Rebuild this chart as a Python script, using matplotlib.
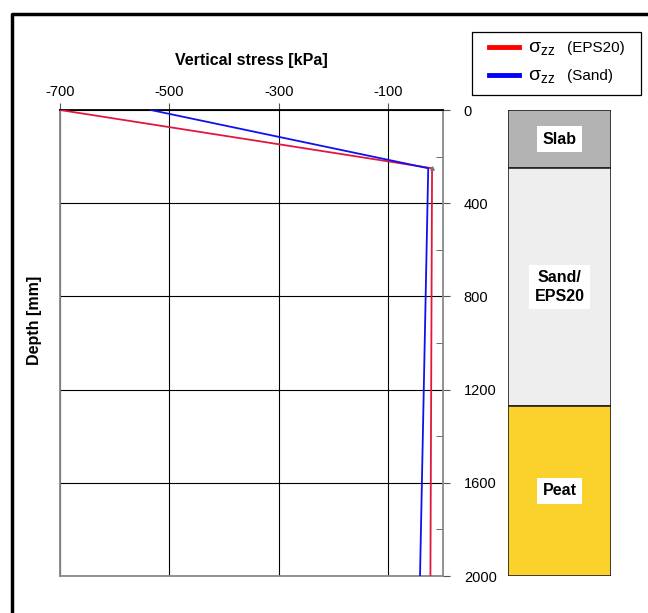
import numpy as np
import matplotlib
matplotlib.use("Agg")
import matplotlib.pyplot as plt
from matplotlib.lines import Line2D
from matplotlib.patches import Rectangle

# data
depth = [0, 250, 2000]
stress_eps = [-700, -20, -23]
stress_sand = [-534, -27, -42]

layer_names = ["Slab", "Sand/\nEPS20", "Peat"]
layer_top = [0, 250, 1270]
layer_bot = [250, 1270, 2000]
layer_colors = ["#B3B3B3", "#EEEEEE", "#FBD22B"]

series_names = ["(EPS20)", "(Sand)"]
legend_colors = ["#FF0000", "#0000FF"]

xticks = [-700, -500, -300, -100]
yticks = [0, 400, 800, 1200, 1600, 2000]

W, H = 648, 613
plt.rcParams['font.family'] = ['Liberation Sans', 'DejaVu Sans']
plt.rcParams['font.size'] = 10.5
plt.rcParams['axes.unicode_minus'] = False
plt.rcParams['mathtext.fontset'] = 'custom'
plt.rcParams['mathtext.rm'] = 'Liberation Sans'
fig = plt.figure(figsize=(W/100, H/100), dpi=100)

def box(x0, y0, x1, y1):
    return [x0/W, 1-y1/H, (x1-x0)/W, (y1-y0)/H]

# stress plot
ax = fig.add_axes(box(60, 110, 443, 576))
ax.plot(stress_eps, depth, "-", color="#E3173E", lw=1.3, zorder=3)
ax.plot(stress_sand, depth, "-", color="#1010F0", lw=1.3, zorder=3)
ax.plot([stress_eps[1]], [depth[1]], marker="^", ms=2.5, color="#777777", zorder=4)
ax.set_xlim(-700, 0)
ax.set_ylim(2000, 0)
ax.xaxis.tick_top()
ax.yaxis.tick_right()
ax.set_xticks(xticks)
ax.set_yticks(yticks)
ax.set_yticks(np.arange(200, 2000, 400), minor=True)
ax.tick_params(axis='x', direction='out', length=5, color='#555555', pad=3, labelsize=10.5)
ax.tick_params(axis='y', which='major', direction='out', length=5, color='#555555', pad=10,
               labelsize=10.5)
ax.tick_params(axis='y', which='minor', direction='in', length=5, color='#555555')
ax.grid(True, which='major', color='black', lw=0.8)
for s in ax.spines.values():
    s.set_color('#888888')
    s.set_linewidth(1.3)
ax.spines['top'].set_color('black')
ax.set_xlabel("Vertical stress [kPa]", fontweight='bold', labelpad=14, fontsize=11.5)
ax.xaxis.set_label_position('top')
fig.text(35/W, 1-320/H, "Depth [mm]", rotation=90, fontweight='bold',
         ha='center', va='center', fontsize=11.5)

# layer column
ax2 = fig.add_axes(box(508, 110, 611, 576))
ax2.set_xlim(0, 1)
ax2.set_ylim(2000, 0)
ax2.axis('off')
for name, t, b, c in zip(layer_names, layer_top, layer_bot, layer_colors):
    ax2.add_patch(Rectangle((0, t), 1, b - t, facecolor=c, edgecolor='#222222', lw=1.2))
    ax2.text(0.5, (t + b) / 2, name, ha='center', va='center', fontweight='bold',
             fontsize=11.5, linespacing=1.3,
             bbox=dict(facecolor='white', edgecolor='none', pad=4))

# legend (drawn by hand: sigma bigger than the series name)
fig.add_artist(Rectangle((472/W, 1-95/H), (641-472)/W, 63/H, facecolor='white',
                         edgecolor='black', lw=0.9, transform=fig.transFigure))
for i, (name, c) in enumerate(zip(series_names, legend_colors)):
    yy = 47 + 28*i
    fig.add_artist(Line2D([489/W, 519/W], [1-yy/H, 1-yy/H], color=c, lw=3.5,
                          transform=fig.transFigure))
    fig.text(528/W, 1-(yy+2)/H, r"σ$_{\mathregular{zz}}$", fontsize=14, va='center',
             ha='left')
    fig.text(567/W, 1-(yy+1)/H, name, fontsize=11, va='center', ha='left')

# outer frame
fig.add_artist(Line2D([12/W, 12/W, 1.0], [0.0, 1-14/H, 1-14/H], color='black', lw=2.5,
                      transform=fig.transFigure))

plt.savefig("out.png", dpi=100)
